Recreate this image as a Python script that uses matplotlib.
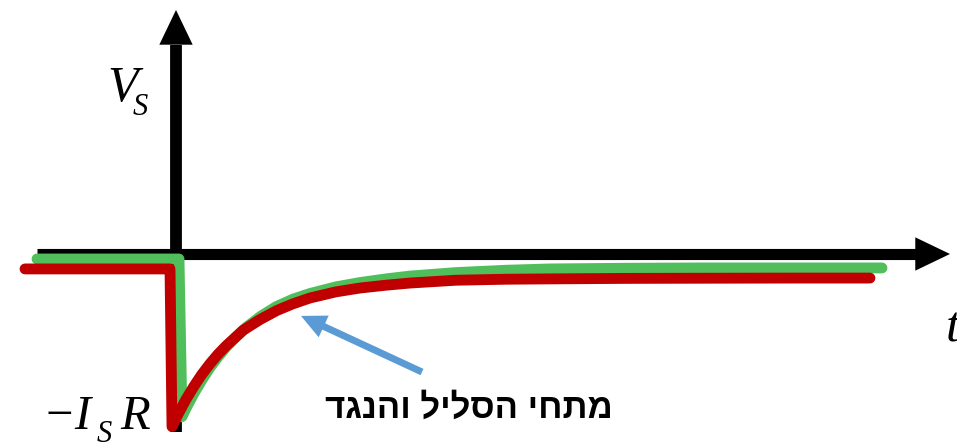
import matplotlib
matplotlib.use("Agg")
import matplotlib.pyplot as plt

# time (arbitrary units) and voltage (in units of I_S*R)
t_coil = [-1.39, 0.03, 0.06, 0.10, 0.18, 0.26, 0.34, 0.42, 0.50, 0.60, 0.70, 0.85, 1.00,
          1.17, 1.34, 1.60, 1.84, 2.10, 2.34, 2.80, 3.30, 3.74, 4.50, 5.24, 6.20, 7.06]
v_coil = [-0.03, -0.03, -0.98, -0.93, -0.839, -0.758, -0.684, -0.62, -0.562, -0.499,
          -0.443, -0.374, -0.318, -0.272, -0.238, -0.198, -0.172, -0.150, -0.133, -0.112,
          -0.098, -0.09, -0.086, -0.084, -0.084, -0.084]

t_res = [-1.51, -0.06, -0.04, 0.02, 0.10, 0.18, 0.26, 0.34, 0.42, 0.50, 0.60, 0.67, 0.84,
         1.01, 1.17, 1.34, 1.60, 1.84, 2.10, 2.34, 2.80, 3.30, 3.74, 4.50, 5.24, 6.20, 6.94]
v_res = [-0.09, -0.09, -1.04, -0.966, -0.876, -0.796, -0.724, -0.661, -0.604, -0.554,
         -0.499, -0.46, -0.395, -0.34, -0.30, -0.265, -0.228, -0.205, -0.188, -0.175,
         -0.158, -0.152, -0.15, -0.147, -0.146, -0.145, -0.145]

label_he = "מתחי הסליל והנגד"

fig = plt.figure(figsize=(9.57, 4.43), dpi=100)
ax = fig.add_axes([0, 0, 1, 1])
ax.set_xlim(-1.76, 7.81)
ax.set_ylim(-1.1386, 1.5301)
ax.axis("off")

# axes with arrow heads
ax.plot([-1.39, 7.40], [0, 0], color="black", lw=8, solid_capstyle="butt", zorder=1)
ax.plot([0, 0], [-1.072, 1.26], color="black", lw=8.5, solid_capstyle="butt", zorder=1)
head = dict(arrowstyle="-|>,head_length=1.0,head_width=0.48", lw=0, color="black",
            mutation_scale=25, shrinkA=0, shrinkB=0)
ax.annotate("", xy=(7.74, 0), xytext=(7.30, 0), arrowprops=head, zorder=1)
ax.annotate("", xy=(0, 1.47), xytext=(0, 1.20), arrowprops=head, zorder=1)

ax.plot(t_coil, v_coil, color="#50BE5A", lw=7.8, solid_capstyle="round",
        solid_joinstyle="round", zorder=2)
ax.plot(t_res, v_res, color="#C00000", lw=7.8, solid_capstyle="round",
        solid_joinstyle="round", zorder=3)

# pointer to the curves
ax.annotate("", xy=(1.25, -0.373), xytext=(2.46, -0.711),
            arrowprops=dict(arrowstyle="simple,head_length=0.9,head_width=0.86,tail_width=0.25",
                            lw=0, color="#5B9BD5", mutation_scale=20,
                            shrinkA=0, shrinkB=0), zorder=4)

ax.text(2.93, -0.93, label_he[::-1], ha="center", va="center", fontsize=25,
        fontweight="bold", family=["Liberation Sans", "DejaVu Sans"])

serif = dict(family="Liberation Serif", style="italic", va="baseline", ha="left")
ax.text(-0.69, 0.92, "V", fontsize=36, **serif)
ax.text(-0.43, 0.84, "S", fontsize=22, **serif)
ax.text(-1.34, -1.054, "\u2212I", fontsize=35, **serif)
ax.text(-0.79, -1.133, "S", fontsize=22, **serif)
ax.text(-0.56, -1.054, "R", fontsize=35, **serif)
ax.text(7.70, -0.53, "t", fontsize=37, **serif)

fig.savefig("out.png", dpi=100)
